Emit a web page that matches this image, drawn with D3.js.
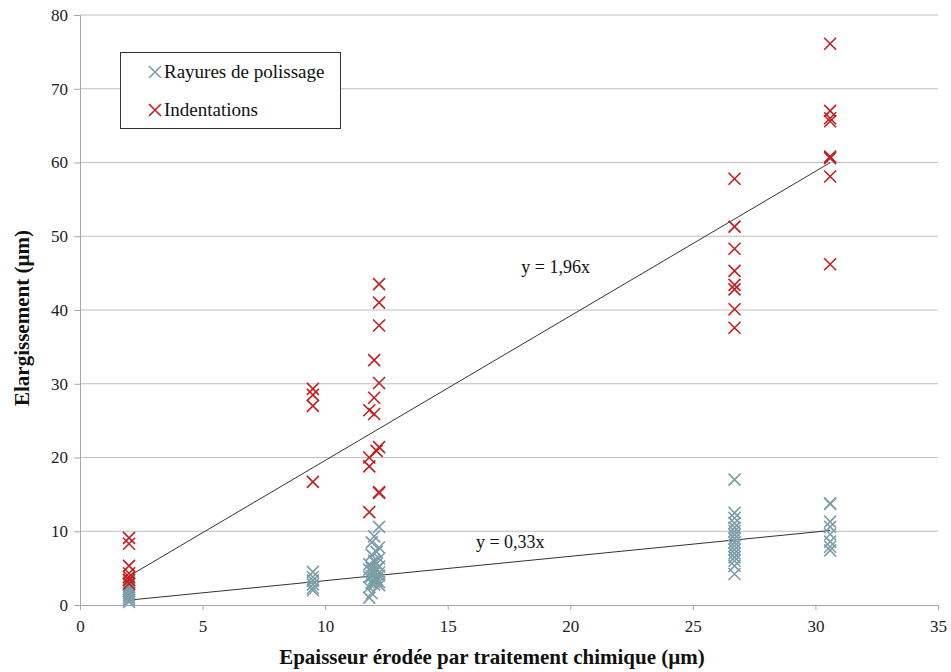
<!DOCTYPE html>
<html><head><meta charset="utf-8">
<script src="https://cdn.jsdelivr.net/npm/d3@7/dist/d3.min.js"></script>
<style>body{margin:0;background:#fff;}</style>
</head><body><svg id="c" width="951" height="672"></svg>
<script>
// Data: [x, y] pairs
const rayuresX = [2,2,2,2,2,2,2,2,2,2,2, 9.5,9.5,9.5,9.5,9.5,9.5,
  12.2,12.0,11.9,12.2,12.1,11.9,12.2,12.0,11.8,12.2,12.1,11.9,12.0,12.2,11.8,12.1,12.0,11.9,12.2,11.8,11.9,11.8,
  12.0,12.1,11.9,12.2,12.0,12.1,11.8,12.2,12.0,11.9,
  26.7,26.7,26.7,26.7,26.7,26.7,26.7,26.7,26.7,26.7,26.7,26.7,26.7,26.7,26.7,26.7,
  30.6,30.6,30.6,30.6,30.6,30.6,30.6,30.6];
const rayuresY = [0.4,0.7,1.0,1.3,1.6,1.9,2.2,2.5,2.8,3.1,3.4, 4.5,3.8,3.3,2.8,2.3,2.0,
  10.6,9.3,8.5,7.8,7.2,6.8,6.3,5.9,5.5,5.2,4.9,4.6,4.3,4.0,3.8,3.5,3.2,3.0,2.7,2.4,1.6,1.0,
  6.0,5.6,5.0,4.4,3.6,3.3,4.8,3.1,2.8,3.9,
  17.0,12.5,11.8,11.1,10.5,10.0,9.5,9.0,8.5,8.0,7.5,7.0,6.5,6.0,5.3,4.2,
  13.7,13.8,11.3,10.6,9.6,8.6,7.9,7.4];
const indentX = [2,2,2,2,2,2,2, 9.5,9.5,9.5,9.5,
  12.2,12.2,12.2,12.0,12.2,12.0,11.8,12.0,12.2,12.1,11.8,11.8,12.2,12.2,11.8,
  26.7,26.7,26.7,26.7,26.7,26.7,26.7,26.7,
  30.6,30.6,30.6,30.6,30.6,30.6,30.6,30.6];
const indentY = [9.1,8.3,5.3,4.3,3.8,3.4,2.9, 29.3,28.5,27.0,16.7,
  43.5,41.0,37.9,33.2,30.1,28.1,26.4,25.9,21.4,20.9,20.0,18.8,15.2,15.3,12.6,
  57.8,51.3,48.3,45.3,43.4,42.8,40.1,37.6,
  76.1,67.0,66.0,65.6,60.8,60.6,58.1,46.2];
const seriesNames = ["Rayures de polissage","Indentations"];
const slopes = [0.33, 1.96];
const slopeLabels = ["y = 0,33x","y = 1,96x"];
const xTicks = [0,5,10,15,20,25,30,35];
const yTicks = [0,10,20,30,40,50,60,70,80];
const colors = ["#7c9ea8","#c41f1f"];
const FONT = "Liberation Serif, DejaVu Serif, serif";

const svg = d3.select("#c");
const m = {l:80, r:938, t:15, b:605};
const x = d3.scaleLinear().domain([0,35]).range([m.l,m.r]);
const y = d3.scaleLinear().domain([0,80]).range([m.b,m.t]);

// gridlines
svg.append("g").selectAll("line").data(yTicks.filter(d=>d>0)).join("line")
  .attr("x1",m.l).attr("x2",m.r).attr("y1",d=>y(d)).attr("y2",d=>y(d))
  .attr("stroke","#bebebe").attr("stroke-width",1);

// axes
const xa = svg.append("g").attr("transform",`translate(0,${m.b})`)
  .call(d3.axisBottom(x).tickValues(xTicks).tickSize(5).tickPadding(10).tickFormat(d3.format("d")));
const ya = svg.append("g").attr("transform",`translate(${m.l},0)`)
  .call(d3.axisLeft(y).tickValues(yTicks).tickSize(6).tickPadding(6).tickFormat(d3.format("d")));
[xa,ya].forEach(a=>{
  a.attr("font-family",FONT).attr("font-size",17);
  a.selectAll("path,line").attr("stroke","#a6a6a6");
  a.selectAll("text").attr("fill","#222");
});

// trend lines
const sets = [[rayuresX,rayuresY],[indentX,indentY]];
sets.forEach((s,i)=>{
  const x0 = d3.min(s[0]), x1 = d3.max(s[0]);
  svg.append("line").attr("x1",x(x0)).attr("y1",y(slopes[i]*x0))
    .attr("x2",x(x1)).attr("y2",y(slopes[i]*x1))
    .attr("stroke","#333").attr("stroke-width",1);
});

// markers
function cross(g, cx, cy, col, r){
  g.append("path").attr("d",`M${cx-r},${cy-r}L${cx+r},${cy+r}M${cx-r},${cy+r}L${cx+r},${cy-r}`)
   .attr("stroke",col).attr("stroke-width",1.6).attr("fill","none");
}
sets.forEach((s,i)=>{
  const g = svg.append("g");
  s[0].forEach((xv,k)=>cross(g, x(xv), y(s[1][k]), colors[i], 6));
});

// trend labels
svg.append("text").attr("x",x(18)).attr("y",y(45)).attr("font-family",FONT).attr("font-size",18).attr("fill","#111").text(slopeLabels[1]);
svg.append("text").attr("x",x(16.15)).attr("y",y(7.7)).attr("font-family",FONT).attr("font-size",18).attr("fill","#111").text(slopeLabels[0]);

// legend
const lg = svg.append("g");
lg.append("rect").attr("x",120.5).attr("y",52.5).attr("width",220).attr("height",76)
  .attr("fill","#fff").attr("stroke","#333").attr("stroke-width",1);
seriesNames.forEach((n,i)=>{
  const cy = 72 + i*38;
  cross(lg, 155, cy, colors[i], 6);
  lg.append("text").attr("x",164).attr("y",cy+6).attr("font-family",FONT).attr("font-size",19).attr("fill","#111").text(n);
});

// axis titles
svg.append("text").attr("x",492).attr("y",664).attr("text-anchor","middle")
  .attr("font-family",FONT).attr("font-size",21).attr("font-weight","bold").attr("fill","#111")
  .text("Epaisseur érodée par traitement chimique (µm)");
svg.append("text").attr("transform","translate(29,318) rotate(-90)").attr("text-anchor","middle")
  .attr("font-family",FONT).attr("font-size",21).attr("font-weight","bold").attr("fill","#111")
  .text("Elargissement (µm)");
</script></body></html>
